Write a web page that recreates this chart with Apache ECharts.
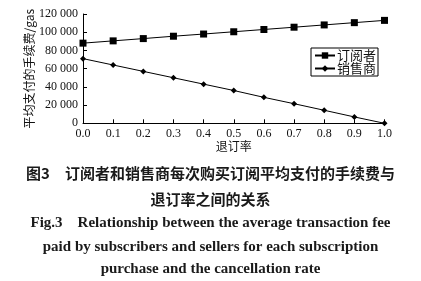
<!DOCTYPE html>
<html><head><meta charset="utf-8">
<script src="https://cdn.jsdelivr.net/npm/echarts@6/dist/echarts.min.js"></script>
<style>html,body{margin:0;padding:0;background:#fff}#c{width:421px;height:281px}</style>
</head><body><div id="c"></div>
<script>
const categories = [0.0,0.1,0.2,0.3,0.4,0.5,0.6,0.7,0.8,0.9,1.0];
const subscriberFee = [88000,90500,93000,95600,98000,100500,103000,105500,108000,110500,113000];
const sellerFee = [71000,64000,57000,50000,43000,36000,28500,21500,14300,7000,0];
const seriesNames = ['订阅者','销售商'];
const captionLines = ['图3　订阅者和销售商每次购买订阅平均支付的手续费与','退订率之间的关系','Fig.3　Relationship between the average transaction fee','paid by subscribers and sellers for each subscription','purchase and the cancellation rate'];

const serif = '"Liberation Serif","DejaVu Serif",serif';
const cjk = '"Noto Sans CJK SC","Noto Sans",sans-serif';
const chart = echarts.init(document.getElementById('c'));
function fmt(v){return String(v).replace(/\B(?=(\d{3})+(?!\d))/g,' ');}
const capY = [173,199,223,247,269];
chart.setOption({
  animation:false,
  grid:{left:83,right:36.5,top:14,bottom:157.7},
  legend:{
    orient:'vertical',left:311,top:48,
    data:seriesNames,
    itemWidth:20,itemHeight:8,itemGap:0,
    padding:[1,2,1,3],
    borderColor:'#000',borderWidth:1,
    textStyle:{fontFamily:cjk,fontSize:13,lineHeight:13,color:'#111',padding:[0,0,0,-3]}
  },
  xAxis:{
    type:'value',min:0,max:1,interval:0.1,
    name:'退订率',nameLocation:'middle',nameGap:17,nameMoveOverlap:false,
    nameTextStyle:{fontFamily:cjk,fontSize:12,color:'#111'},
    axisLine:{lineStyle:{color:'#000',width:1}},
    axisTick:{inside:true,length:4,lineStyle:{color:'#000'}},
    axisLabel:{fontFamily:serif,fontSize:12,color:'#111',margin:5,formatter:v=>v.toFixed(1)},
    splitLine:{show:false}
  },
  yAxis:{
    type:'value',min:0,max:120000,interval:20000,
    name:'平均支付的手续费/gas',nameLocation:'middle',nameGap:48,nameMoveOverlap:false,
    nameTextStyle:{fontFamily:cjk,fontSize:12,color:'#111'},
    axisLine:{show:true,lineStyle:{color:'#000',width:1}},
    axisTick:{show:true,inside:true,length:4,lineStyle:{color:'#000'}},
    axisLabel:{fontFamily:serif,fontSize:12,color:'#111',margin:5,formatter:v=>fmt(v)},
    splitLine:{show:false}
  },
  series:[
    {name:seriesNames[0],type:'line',data:categories.map((x,i)=>[x,subscriberFee[i]]),
     symbol:'rect',symbolSize:7,lineStyle:{color:'#000',width:1},itemStyle:{color:'#000'}},
    {name:seriesNames[1],type:'line',data:categories.map((x,i)=>[x,sellerFee[i]]),
     symbol:'diamond',symbolSize:6,lineStyle:{color:'#000',width:1},itemStyle:{color:'#000'}}
  ],
  graphic:captionLines.map((t,i)=>({
    type:'text',x:210.5,y:capY[i],
    style:{text:t,align:'center',verticalAlign:'middle',
      font:(i<2?'bold 15px '+cjk:'bold 15px '+serif),fill:'#1a1a1a'}
  }))
});
</script></body></html>
